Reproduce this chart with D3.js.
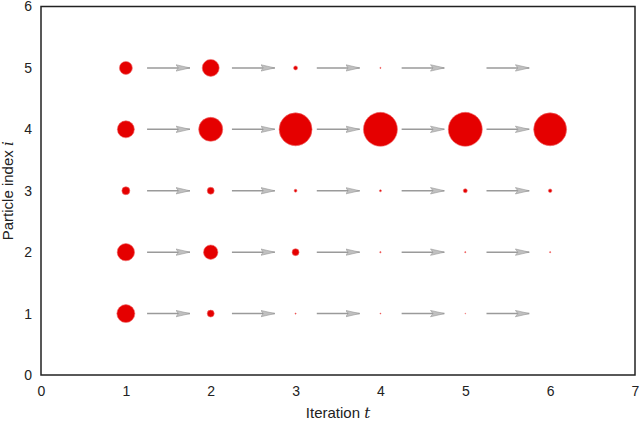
<!DOCTYPE html>
<html><head><meta charset="utf-8">
<script src="https://cdn.jsdelivr.net/npm/d3@7/dist/d3.min.js"></script>
<style>body{margin:0;background:#fff}svg{display:block}text{font-family:"Liberation Sans",Arial,sans-serif;fill:#222}</style>
</head><body><svg id="c" width="640" height="422"></svg>
<script>
const iterations = [1, 2, 3, 4, 5, 6];
const particles = [1, 2, 3, 4, 5];
// particle weights per iteration (row = particle index)
const weights1 = [0.28, 0.042, 0.0012, 0.0009, 0.0005, 0.0];
const weights2 = [0.26, 0.18, 0.042, 0.0017, 0.0012, 0.0012];
const weights3 = [0.055, 0.042, 0.007, 0.0035, 0.014, 0.011];
const weights4 = [0.25, 0.50, 0.94, 1.0, 1.0, 0.94];
const weights5 = [0.146, 0.25, 0.014, 0.0012, 0.0, 0.0];
const xTicks = [0, 1, 2, 3, 4, 5, 6, 7];
const yTicks = [0, 1, 2, 3, 4, 5, 6];

const W = [weights1, weights2, weights3, weights4, weights5];
const svg = d3.select("#c");
const m = {l: 41, r: 5, t: 6.5, b: 47};
const x = d3.scaleLinear().domain([0, 7]).range([m.l, 640 - m.r]);
const y = d3.scaleLinear().domain([0, 6]).range([422 - m.b, m.t]);
const rad = d3.scaleSqrt().domain([0, 1]).range([0, 17]);

svg.append("defs").append("marker")
  .attr("id", "ah").attr("viewBox", "0 0 14 8").attr("refX", 14).attr("refY", 4)
  .attr("markerWidth", 14).attr("markerHeight", 8).attr("markerUnits", "userSpaceOnUse")
  .attr("orient", "auto")
  .append("path").attr("d", "M0,0.8 L14,4 L0,7.2 L2.5,4 Z")
  .attr("fill", "#c0c0c0").attr("stroke", "#999").attr("stroke-width", 0.6);

// arrows
const arrows = [];
particles.forEach(p => iterations.slice(0, -1).forEach(t => arrows.push({p, t})));
svg.append("g").selectAll("line").data(arrows).join("line")
  .attr("x1", d => x(d.t + 0.25)).attr("x2", d => x(d.t + 0.755))
  .attr("y1", d => y(d.p)).attr("y2", d => y(d.p))
  .attr("stroke", "#9a9a9a").attr("stroke-width", 1.5)
  .attr("marker-end", "url(#ah)");

// circles
const pts = [];
particles.forEach((p, i) => iterations.forEach((t, j) => pts.push({p, t, w: W[i][j]})));
svg.append("g").selectAll("circle").data(pts.filter(d => d.w > 0)).join("circle")
  .attr("cx", d => x(d.t)).attr("cy", d => y(d.p)).attr("r", d => rad(d.w))
  .attr("fill", "#e50000").attr("stroke", "#f07070").attr("stroke-width", 0.6);

// frame
svg.append("rect").attr("x", x(0)).attr("y", y(6)).attr("width", x(7) - x(0)).attr("height", y(0) - y(6))
  .attr("fill", "none").attr("stroke", "#222").attr("stroke-width", 1.5);

// axes (labels only)
const xa = svg.append("g").attr("transform", `translate(0,${y(0)})`)
  .call(d3.axisBottom(x).tickValues(xTicks).tickSize(0).tickPadding(11).tickFormat(d3.format("d")));
const ya = svg.append("g").attr("transform", `translate(${x(0)},0)`)
  .call(d3.axisLeft(y).tickValues(yTicks).tickSize(0).tickPadding(9).tickFormat(d3.format("d")));
[xa, ya].forEach(a => { a.select(".domain").remove(); a.selectAll("text").attr("font-size", 14).attr("fill", "#222").style("font-family", "Liberation Sans, Arial, sans-serif"); });

const xl = svg.append("text").attr("x", (x(0) + x(7)) / 2).attr("y", 418).attr("text-anchor", "middle").attr("font-size", 15);
xl.append("tspan").text("Iteration ");
xl.append("tspan").attr("font-style", "italic").attr("font-family", "DejaVu Serif, serif").text("t");
const yl = svg.append("text").attr("transform", `translate(13,${(y(0) + y(6)) / 2}) rotate(-90)`).attr("text-anchor", "middle").attr("font-size", 15);
yl.append("tspan").text("Particle index ");
yl.append("tspan").attr("font-style", "italic").attr("font-family", "DejaVu Serif, serif").text("i");
</script></body></html>
